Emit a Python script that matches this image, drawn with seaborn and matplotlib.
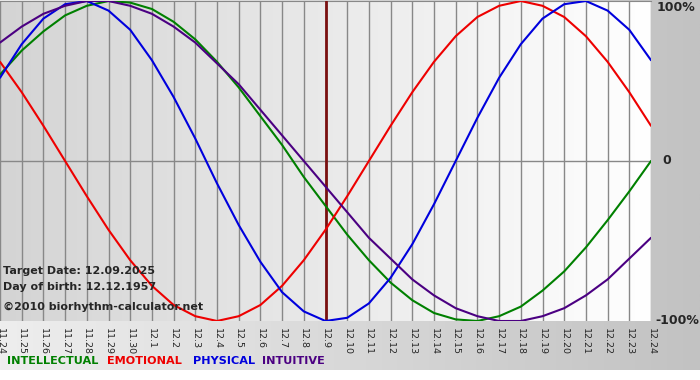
import numpy as np
import pandas as pd
import seaborn as sns
import matplotlib.pyplot as plt
from matplotlib.colors import LinearSegmentedColormap

days = ['11.24', '11.25', '11.26', '11.27', '11.28', '11.29', '11.30',
        '12.1', '12.2', '12.3', '12.4', '12.5', '12.6', '12.7', '12.8', '12.9',
        '12.10', '12.11', '12.12', '12.13', '12.14', '12.15', '12.16', '12.17',
        '12.18', '12.19', '12.20', '12.21', '12.22', '12.23', '12.24']

physical = [0.52, 0.73, 0.89, 0.98, 1.00, 0.94, 0.82, 0.63, 0.40, 0.14, -0.14,
            -0.40, -0.63, -0.82, -0.94, -1.00, -0.98, -0.89, -0.73, -0.52, -0.27,
            0.00, 0.27, 0.52, 0.73, 0.89, 0.98, 1.00, 0.94, 0.82, 0.63]
emotional = [0.62, 0.43, 0.22, 0.00, -0.22, -0.43, -0.62, -0.78, -0.90, -0.97,
             -1.00, -0.97, -0.90, -0.78, -0.62, -0.43, -0.22, 0.00, 0.22, 0.43,
             0.62, 0.78, 0.90, 0.97, 1.00, 0.97, 0.90, 0.78, 0.62, 0.43, 0.22]
intellectual = [0.54, 0.69, 0.81, 0.91, 0.97, 1.00, 0.99, 0.95, 0.87, 0.76, 0.62,
                0.46, 0.28, 0.10, -0.10, -0.28, -0.46, -0.62, -0.76, -0.87, -0.95,
                -0.99, -1.00, -0.97, -0.91, -0.81, -0.69, -0.54, -0.37, -0.19, 0.00]
intuitive = [0.74, 0.84, 0.92, 0.97, 1.00, 1.00, 0.97, 0.92, 0.84, 0.74, 0.61,
             0.48, 0.32, 0.16, 0.00, -0.16, -0.32, -0.48, -0.61, -0.74, -0.84,
             -0.92, -0.97, -1.00, -1.00, -0.97, -0.92, -0.84, -0.74, -0.61, -0.48]

target_day = '12.9'

series = [('INTELLECTUAL', intellectual, '#008000'),
          ('EMOTIONAL', emotional, '#ee0000'),
          ('PHYSICAL', physical, '#0000dd'),
          ('INTUITIVE', intuitive, '#4b0082')]

sns.set_style('white')
plt.rcParams['font.family'] = ['DejaVu Sans']

fig = plt.figure(figsize=(7, 3.8), dpi=100)
fig.patch.set_facecolor('white')

# gray band behind the labels
bg = fig.add_axes([0, 10 / 380, 1, 370 / 380])
bg_cmap = LinearSegmentedColormap.from_list('bg', ['#eeeeee', '#c2c2c2'])
bg.imshow(np.linspace(0, 1, 256).reshape(1, -1), aspect='auto', cmap=bg_cmap,
          extent=[0, 1, 0, 1])
bg.axis('off')

ax = fig.add_axes([0, 1 - 321 / 380, 651 / 700, 320 / 380])
x = np.arange(len(days))
plot_cmap = LinearSegmentedColormap.from_list('pl', ['#d4d4d4', '#ffffff'])
ax.imshow(np.linspace(0, 1, 256).reshape(1, -1), aspect='auto', cmap=plot_cmap,
          extent=[0, len(days) - 1, -1, 1], zorder=0)

for xi in x:
    ax.axvline(xi, color='#888888', lw=1, zorder=1)
ax.axhline(0, color='#888888', lw=1, zorder=1)
ax.axvline(days.index(target_day), color='#7a1010', lw=2, zorder=3)

for name, vals, col in series:
    df = pd.DataFrame({'day': x, 'value': vals})
    sns.lineplot(data=df, x='day', y='value', ax=ax, color=col, lw=1.5, zorder=4)

ax.set_xlim(0, len(days) - 1)
ax.set_ylim(-1, 1)
ax.set_xlabel('')
ax.set_ylabel('')
ax.set_xticks(x)
ax.set_xticklabels(days, rotation=270, fontsize=6.8)
ax.tick_params(axis='x', length=4, color='#666666', pad=1)
ax.set_yticks([])
for s in ax.spines.values():
    s.set_visible(False)
ax.spines['top'].set_visible(True)
ax.spines['top'].set_color('#888888')

ax.text(1.008, 1, '100%', transform=ax.transAxes, fontsize=9, fontweight='bold',
        va='top', ha='left')
ax.text(1.017, 0.5, '0', transform=ax.transAxes, fontsize=9, fontweight='bold',
        va='center', ha='left')
ax.text(1.006, 0, '-100%', transform=ax.transAxes, fontsize=9, fontweight='bold',
        va='center', ha='left')

info = ['Target Date: 12.09.2025', 'Day of birth: 12.12.1957']
fig.text(3 / 700, 1 - 271 / 380, info[0], fontsize=8, fontweight='bold', va='center')
fig.text(3 / 700, 1 - 287 / 380, info[1], fontsize=8, fontweight='bold', va='center')
fig.text(3 / 700, 1 - 307 / 380, '\u00a92010 biorhythm-calculator.net', fontsize=8,
         fontweight='bold', va='center')

xpos = [7, 107, 193, 262]
for (name, vals, col), xp in zip(series, xpos):
    fig.text(xp / 700, 1 - 361 / 380, name, color=col, fontsize=8.1,
             fontweight='bold', va='center')

fig.savefig('out.png', dpi=100)
